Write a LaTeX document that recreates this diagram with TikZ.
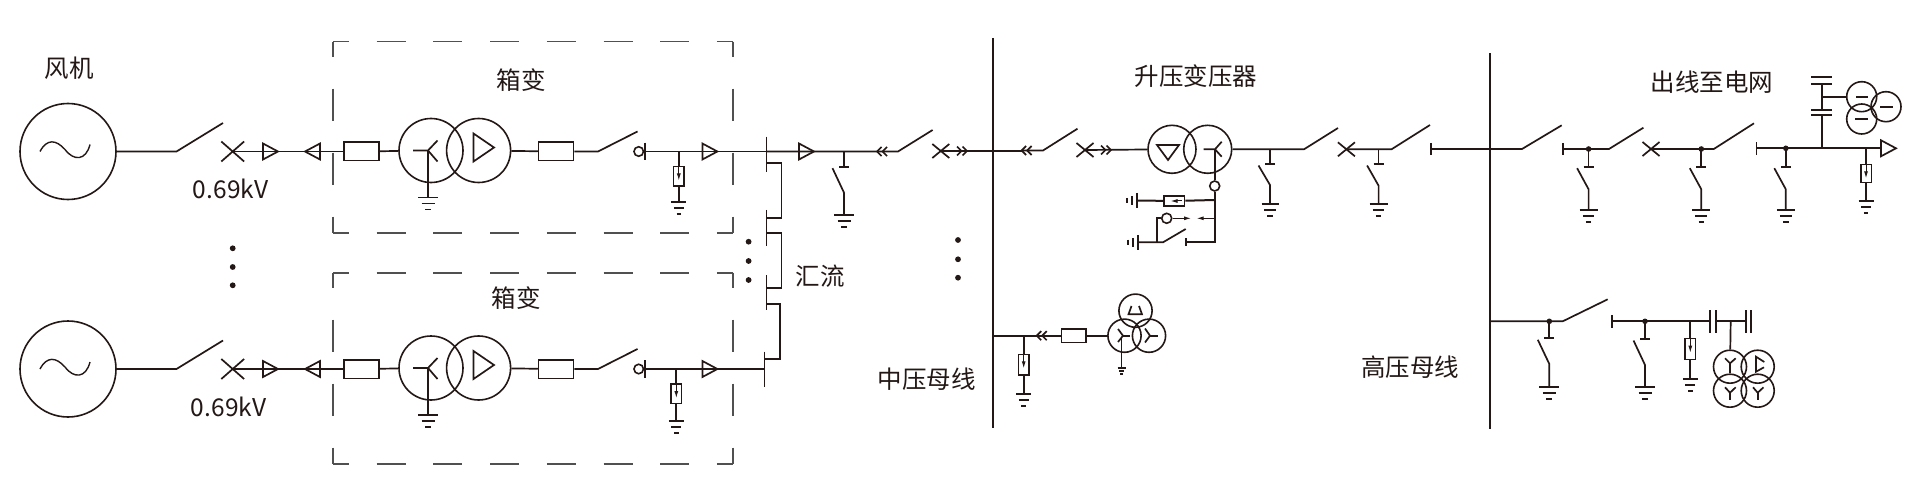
\documentclass[tikz,border=0pt]{standalone}
\usepackage{fontspec}
\newfontfamily\cjk{Noto Sans CJK SC}
\usetikzlibrary{arrows.meta,positioning}
\definecolor{inkC}{RGB}{35,24,21}
\definecolor{boxC}{RGB}{80,80,80}
\tikzset{
    wire/.style    = {draw=inkC, line width=1.7pt},
    busbar/.style  = {draw=inkC, line width=2pt},
    gen/.style     = {circle, draw=inkC, line width=1.6pt, minimum size=96pt, inner sep=0pt},
    tcirc/.style   = {circle, draw=inkC, line width=1.6pt, inner sep=0pt},
    fuse/.style    = {rectangle, draw=inkC, line width=1.5pt, inner sep=0pt,
            minimum width=35pt, minimum height=18.5pt},
    lbl/.style     = {text=inkC, inner sep=0pt, font=\cjk\fontsize{24.5}{26}\selectfont},
    dashH/.style   = {draw=boxC, line width=1.6pt, dash pattern=on 29pt off 27.7pt, dash phase=13pt},
    dashV/.style   = {draw=boxC, line width=1.6pt, dash pattern=on 32pt off 32pt, dash phase=17pt},
    smalltip/.style = {wire, line width=1pt, -{Latex[length=7pt,width=4pt]}},
}
\newcommand{\Gnd}[3]{% x, y, half width
    \draw[wire] (#1-#3,#2) -- (#1+#3,#2);
    \draw[wire] (#1-0.65*#3,#2+6) -- (#1+0.65*#3,#2+6);
    \draw[wire] (#1-0.3*#3,#2+12) -- (#1+0.3*#3,#2+12);
}
\newcommand{\GndL}[2]{% x, y
    \draw[wire] (#1,#2-7.5) -- (#1,#2+7.5);
    \draw[wire] (#1-5,#2-4.3) -- (#1-5,#2+4.3);
    \draw[wire] (#1-9.4,#2-2.7) -- (#1-9.4,#2+2.7);
}
\newcommand{\XMark}[2]{% x, y
    \draw[wire] (#1-8.5,#2-7) -- (#1+8.5,#2+7);
    \draw[wire] (#1-8.5,#2+7) -- (#1+8.5,#2-7);
}
\newcommand{\TriR}[2]{\draw[wire] (#1,#2-8) -- (#1+15,#2) -- (#1,#2+8) -- cycle;}
\newcommand{\TriL}[2]{\draw[wire] (#1,#2-8) -- (#1-15,#2) -- (#1,#2+8) -- cycle;}
\newcommand{\ChevL}[2]{% leftmost x, y
    \draw[wire] (#1+4.5,#2-4.5) -- (#1,#2) -- (#1+4.5,#2+4.5);
    \draw[wire] (#1+10,#2-4.5) -- (#1+5.5,#2) -- (#1+10,#2+4.5);
}
\newcommand{\ChevR}[2]{% rightmost x, y
    \draw[wire] (#1-4.5,#2-4.5) -- (#1,#2) -- (#1-4.5,#2+4.5);
    \draw[wire] (#1-10,#2-4.5) -- (#1-5.5,#2) -- (#1-10,#2+4.5);
}
\newcommand{\EndBar}[3]{\draw[wire] (#1,#2-#3) -- (#1,#2+#3);}
\newcommand{\EarthSw}[6]{% x, y0, ybar, yblade, ygnd, half width
    \draw[wire] (#1,#2) -- (#1,#3);
    \draw[wire] (#1-5,#3) -- (#1+5,#3);
    \draw[wire] (#1-11.5,#3+1.5) -- (#1,#4) -- (#1,#5);
    \Gnd{#1}{#5}{#6}
}
\newcommand{\Arrester}[6]{% name, x, y0, top, bottom, ygnd
    \node[fuse, minimum width=10.5pt, minimum height=#5pt-#4pt] (#1) at (#2,{(#4+#5)/2}) {};
    \draw[wire] (#2,#3) -- (#1.north);
    \draw[wire] (#1.south) -- (#2,#6);
    \draw[smalltip] (#1.north) -- (#2,#4+14);
    \Gnd{#2}{#6}{7.5}
}
\newcommand{\JDot}[2]{\fill[inkC] (#1,#2) circle (2.8pt);}
\newcommand{\BigDot}[2]{\fill[inkC] (#1,#2) circle (2.9pt);}
\newcommand{\DashBox}[1]{% top y of the box
    \draw[dashH] (333,#1) -- (733,#1);
    \draw[dashH] (333,#1+191.3) -- (733,#1+191.3);
    \draw[dashV] (333,#1) -- (333,#1+191.3);
    \draw[dashV] (733,#1) -- (733,#1+191.3);
}
\newcommand{\WindRow}[5]{% suffix, y, arrester x, arrester gnd, end x
    \begin{scope}[yshift=-#2pt]
        \node[gen] (g#1) at (68,0) {};
        \draw[inkC, line width=1.4pt] (40,0) .. controls (47,-13) and (56,-12) .. (65,-2)
            .. controls (74,10) and (86,9) .. (90,-7);
        \coordinate (sw#1) at (176.5,0);
        \draw[wire] (g#1) -- (sw#1) -- (223,-28.5);
        \draw[wire] (232.7-11.4,-10) -- (232.7+11.4,10);
        \draw[wire] (232.7-11.4,10) -- (232.7+11.4,-10);
        \node[fuse] (fa#1) at (361.5,0) {};
        \node[tcirc, minimum size=64pt] (tl#1) at (431,-1) {};
        \node[tcirc, minimum size=64pt] (tr#1) at (478.6,-1) {};
        \node[fuse] (fb#1) at (556,0) {};
        \draw[wire] (232.7,0) -- (fa#1);
        \TriR{263}{0}
        \TriL{320}{0}
        \draw[wire] (fa#1) -- (tl#1);
        \draw[wire] (tr#1) -- (fb#1);
        \coordinate (sb#1) at (598,0);
        \draw[wire] (fb#1) -- (sb#1) -- (637.5,-20);
        % windings
        \draw[wire] (413,-1) -- (428,-1) -- (437.5,-11);
        \draw[wire] (428,-1) -- (437.5,10);
        \draw[wire] (428,-1) -- (428,46);
        \Gnd{428}{46}{10}
        \draw[wire] (473.5,-18) -- (494,-4) -- (473.5,10) -- cycle;
        % open contact
        \node[tcirc, minimum size=9.5pt] (oc#1) at (638.7,0) {};
        \EndBar{645}{0}{8.8}
        \draw[wire] (645,0) -- (#5,0);
        \Arrester{ar#1}{#3}{0}{15}{34.5}{#4}
        \TriR{702.4}{0}
    \end{scope}
}
\begin{document}
\begin{tikzpicture}[x=1pt,y=-1pt]
    \useasboundingbox (0,0) rectangle (1911,497);
    \WindRow{a}{151.5}{678.8}{50.5}{766.5}
    \WindRow{b}{369}{676.3}{52}{764.5}
    \DashBox{41.7}
    \DashBox{272.7}
    \node[lbl] (lbFan) at (69.4,68.3) {风机};
    \node[lbl] (lbBoxA) at (521,80) {箱变};
    \node[lbl] (lbBoxB) at (516,297.7) {箱变};
    \node[lbl] (lbKvA) at (230.6,189) {0.69kV};
    \node[lbl] (lbKvB) at (228.6,407) {0.69kV};
    \node[lbl] (lbSum) at (820.4,276) {汇流};
    \node[lbl] (lbStep) at (1196,76) {升压变压器};
    \node[lbl] (lbMid) at (926.5,379) {中压母线};
    \node[lbl] (lbHigh) at (1410,367) {高压母线};
    \node[lbl] (lbOut) at (1711.8,81.7) {出线至电网};
    \foreach \yy in {248.3,267,285.3} {\BigDot{232.7}{\yy}}
    \foreach \yy in {241.7,261,280} {\BigDot{748.6}{\yy}}
    \foreach \yy in {240,259.3,277.7} {\BigDot{958}{\yy}}

    % collector bars
    \draw[wire] (766.5,136.7) -- (766.5,171.7);
    \draw[wire] (766.5,162.7) -- (781.6,162.7) -- (781.6,218) -- (766.5,218);
    \draw[wire] (766.5,210) -- (766.5,245.7);
    \draw[wire] (766.5,232.7) -- (781.6,232.7) -- (781.6,288.3) -- (766.5,288.3);
    \draw[wire] (766.5,275) -- (766.5,310);
    \draw[wire] (766.5,304) -- (780,304) -- (780,359.3) -- (764.5,359.3);
    \draw[wire] (764.5,351.7) -- (764.5,386.7);

    % feeder to medium bus
    \coordinate (swM) at (898,151.5);
    \draw[wire] (766.5,151.5) -- (swM) -- (932.6,130);
    \TriR{799}{151.5}
    \ChevL{877}{151.5}
    \EarthSw{844}{151.5}{166.7}{192.7}{215}{10}
    \XMark{940.8}{151}
    \ChevR{967}{151}

    % buses
    \coordinate (busMt) at (992.6,38);
    \coordinate (busMb) at (992.6,428);
    \coordinate (busHt) at (1490.3,53.3);
    \coordinate (busHb) at (1490.3,429);
    \draw[busbar] (busMt) -- (busMb);
    \draw[busbar] (busHt) -- (busHb);
    \draw[busbar] (940.8,151) -- (1021.6,151);

    % step-up transformer
    \coordinate (swT) at (1043,150.5);
    \draw[wire] (1021.6,150.5) -- (swT) -- (1077.5,128.7);
    \ChevL{1021.6}{150.5}
    \coordinate (xT) at (1085,150);
    \XMark{1085}{150}
    \ChevR{1111}{150}
    \node[tcirc, minimum size=48pt] (tsL) at (1172,149.3) {};
    \node[tcirc, minimum size=48pt] (tsR) at (1207.7,149.3) {};
    \draw[wire] (xT) -- (tsL);
    \draw[wire] (1157,145) -- (1179,145) -- (1168,160) -- cycle;
    \draw[wire] (1203.5,149.3) -- (1215,149.3) -- (1221.7,141.7);
    \draw[wire] (1215,149.3) -- (1221.7,156.7);
    \node[tcirc, minimum size=10pt] (ctN) at (1214.7,186) {};
    \draw[wire] (1214.7,149.3) -- (ctN.north);
    \coordinate (nA) at (1214.7,200);
    \coordinate (nB) at (1214.7,218.3);
    \coordinate (nC) at (1214.7,242.3);
    \draw[wire] (ctN.south) -- (nC) -- (1186,242.3);
    \EndBar{1186}{242.3}{4}
    \node[fuse, minimum width=20.7pt, minimum height=10pt] (fuN) at (1174.3,201) {};
    \coordinate (gnA) at (1136.7,200.5);
    \draw[busbar] (nA) -- (fuN);
    \draw[busbar] (fuN) -- (gnA);
    \draw[smalltip] (1182,201) -- (1170.5,201);
    \GndL{1136.7}{200.5}
    \draw[smalltip] (nB) -- (1196.7,218.3);
    \node[tcirc, minimum size=10pt] (ctG) at (1166.7,218.3) {};
    \draw[smalltip] (ctG) -- (1191,218.3);
    \coordinate (gjA) at (1157.3,242.3);
    \draw[wire] (ctG) -- (1157.3,218.3) -- (gjA);
    \coordinate (gnB) at (1137.7,242.3);
    \draw[wire] (gnB) -- (1163,242.3) -- (1185.7,229);
    \GndL{1137.7}{242.3}

    % step-up output to high bus
    \coordinate (swO) at (1304,149.3);
    \draw[wire] (tsR) -- (swO) -- (1338,128);
    \EarthSw{1270}{149.3}{164}{185}{204.3}{8.5}
    \XMark{1346.4}{149.3}
    \coordinate (swP) at (1391.5,149.3);
    \draw[wire] (1346.4,149.3) -- (swP) -- (1430,125);
    \EarthSw{1378.6}{149.3}{164}{185.7}{204}{9}
    \EndBar{1431.3}{149}{6}
    \coordinate (swQ) at (1522,149);
    \draw[wire] (1431.3,149) -- (swQ) -- (1561.7,125.3);

    % outgoing line
    \EndBar{1563.3}{149}{6}
    \coordinate (swR) at (1609,149);
    \draw[wire] (1563.3,149) -- (swR) -- (1643.4,127.7);
    \JDot{1588.6}{149}
    \EarthSw{1588.6}{149}{166.7}{189.3}{210}{9}
    \XMark{1651}{149}
    \coordinate (swS) at (1713.8,149);
    \draw[wire] (1651,149) -- (swS) -- (1754,123.3);
    \JDot{1701.3}{149}
    \EarthSw{1701.3}{149}{166.7}{189.3}{210}{9}
    \EndBar{1756.5}{148.5}{6.2}
    \draw[wire] (1756.5,148.3) -- (1881,148.3);
    \JDot{1785.8}{148.3}
    \EarthSw{1785.8}{148.3}{166.7}{189.3}{210}{9}
    \TriR{1881}{148.3}
    \Arrester{arO}{1866}{148.3}{164.3}{182.7}{200.7}

    % voltage transformer on the line
    \draw[wire] (1821.7,148.3) -- (1821.7,115);
    \draw[wire] (1811,115) -- (1831.7,115);
    \draw[wire] (1811,110) -- (1831.7,110);
    \draw[wire] (1821.7,110) -- (1821.7,84);
    \draw[busbar] (1811,84) -- (1831.7,84);
    \draw[wire] (1811,77.3) -- (1831.7,77.3);
    \node[tcirc, minimum size=30pt] (pvA) at (1861.7,96.7) {};
    \node[tcirc, minimum size=30pt] (pvB) at (1886,106.7) {};
    \node[tcirc, minimum size=30pt] (pvC) at (1861.7,119) {};
    \coordinate (pvJ) at (1821.7,96.7);
    \draw[wire] (pvJ) -- (pvA);
    \draw[wire] (1856,96.7) -- (1868,96.7);
    \draw[busbar] (1880,106.7) -- (1893,106.7);
    \draw[wire] (1855,119) -- (1868,119);

    % station transformer on medium bus
    \coordinate (busMj) at (992.6,335.7);
    \draw[busbar] (busMj) -- (1036.7,335.7);
    \ChevL{1036.7}{335.7}
    \node[fuse, minimum width=24.4pt, minimum height=13.3pt] (fuS) at (1073.8,335.7) {};
    \node[tcirc, minimum size=33.2pt] (stL) at (1124.5,335.7) {};
    \node[tcirc, minimum size=33.2pt] (stR) at (1149,335.7) {};
    \node[tcirc, minimum size=33.2pt] (stT) at (1135.5,310.7) {};
    \draw[wire] (1036.7,335.7) -- (fuS);
    \draw[wire] (fuS) -- (stL);
    \draw[wire] (1131.5,306) -- (1128.5,314.3) -- (1142,314.3) -- (1139,306);
    \draw[wire] (1118,329) -- (1123,335.7) -- (1118,342);
    \draw[wire] (1123,335.7) -- (1129.5,335.7);
    \draw[wire] (1145,328.5) -- (1150,335.7) -- (1145,342.5);
    \draw[wire] (1150,335.7) -- (1158,335.7);
    \draw[wire] (1121.6,337) -- (1121.6,368);
    \draw[wire, line width=1.2pt] (1117.5,368) -- (1125.7,368);
    \draw[wire, line width=1.2pt] (1119,371) -- (1124.2,371);
    \draw[wire, line width=1.2pt] (1120.3,374) -- (1122.9,374);
    \Arrester{arM}{1023.7}{335.7}{354.3}{375}{394.3}

    % high bus feeder
    \coordinate (busHj) at (1490.3,321.3);
    \coordinate (swH) at (1562.7,321.3);
    \draw[wire] (busHj) -- (swH) -- (1607.7,299.3);
    \JDot{1549.3}{321.3}
    \EarthSw{1549.3}{321.3}{338.3}{364}{386.7}{10}
    \EndBar{1612}{321.6}{6.7}
    \draw[wire] (1612,321.3) -- (1709.3,321.3);
    \JDot{1645}{321.3}
    \EarthSw{1645}{321.3}{339}{365}{387}{10}
    \Arrester{arH}{1690.3}{321.3}{338.7}{359.3}{379}
    \draw[wire] (1710,310) -- (1710,332.7);
    \draw[wire] (1716,310) -- (1716,332.7);
    \draw[wire] (1716,321.3) -- (1746,321.3);
    \draw[wire] (1746,310) -- (1746,332.7);
    \draw[wire] (1751.3,310) -- (1751.3,332.7);
    \node[tcirc, minimum size=33pt] (hvA) at (1730,366.7) {};
    \node[tcirc, minimum size=33pt] (hvB) at (1757.7,366.7) {};
    \node[tcirc, minimum size=33pt] (hvC) at (1730,390.7) {};
    \node[tcirc, minimum size=33pt] (hvD) at (1757.7,390.7) {};
    \coordinate (hvJ) at (1730.7,321.3);
    \draw[wire] (hvJ) -- (hvA);
    \draw[wire] (1725,358.3) -- (1730,363.3) -- (1735.7,358.3);
    \draw[wire] (1730,363.3) -- (1730,373.3);
    \draw[wire] (1725,387.3) -- (1730,392.7) -- (1735.7,387.3);
    \draw[wire] (1730,392.7) -- (1730,400);
    \draw[wire] (1753,387.3) -- (1757.7,392.7) -- (1763.5,387.3);
    \draw[wire] (1757.7,392.7) -- (1757.7,400);
    \draw[wire] (1764.3,362) -- (1756,356.7) -- (1756,371.7) -- (1764,367.3);
\end{tikzpicture}
\end{document}
